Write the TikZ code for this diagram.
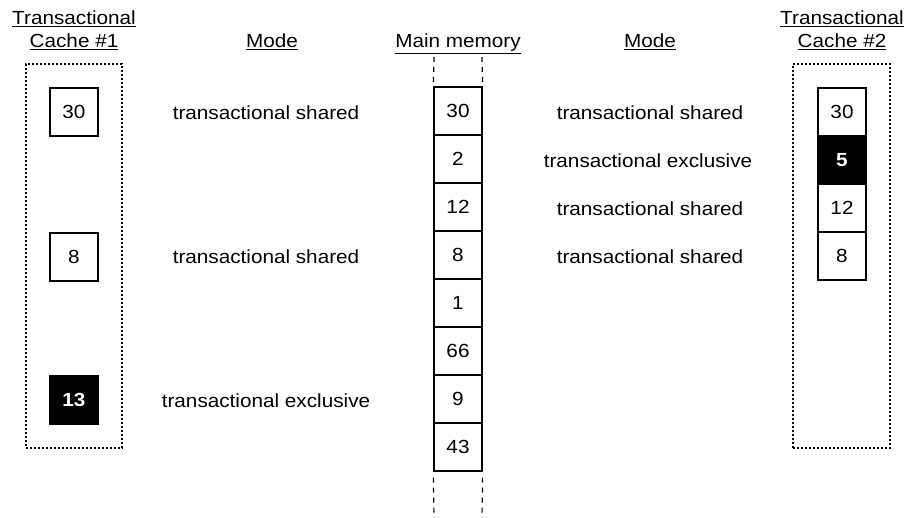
\documentclass[tikz,border=0pt]{standalone}
\usepackage{fontspec}
\setmainfont{Liberation Sans}
% slightly widened lettering
\newcommand\widetxt[1]{\scalebox{1.09}[1]{#1}}
\begin{document}
\begin{tikzpicture}[x=1pt,y=-1pt,
  every node/.style={font=\fontsize{19}{22}\selectfont},
  cell/.style={draw=black,line width=1.2pt,minimum width=48pt,minimum height=48pt,inner sep=0pt,fill=white},
  hotcell/.style={cell,fill=black,text=white,font=\fontsize{19}{22}\selectfont\bfseries},
  cachebox/.style={draw=black,line width=1.2pt,dash pattern=on 2pt off 2pt,inner sep=0pt},
  header/.style={anchor=base,inner sep=0pt},
  mode/.style={anchor=base,inner sep=0pt},
  rail/.style={line width=1.2pt,dash pattern=on 5pt off 5pt}
]
\useasboundingbox (0,0) rectangle (906,518);

% caches drawn as dotted frames
\node[cachebox,minimum width=96pt,minimum height=384pt] (cacheA) at (74,256) {};
\node[cachebox,minimum width=97pt,minimum height=384pt] (cacheB) at (841.5,256) {};

% headers
\node[header] (hA1) at (74,25) {\widetxt{\underline{Transactional}}};
\node[header] (hA2) at (74,48) {\widetxt{\underline{Cache \#1}}};
\node[header] (hB1) at (842,25) {\widetxt{\underline{Transactional}}};
\node[header] (hB2) at (842,48) {\widetxt{\underline{Cache \#2}}};
\node[header] (hModeA) at (272,48) {\widetxt{\underline{Mode}}};
\node[header] (hModeB) at (650,48) {\widetxt{\underline{Mode}}};
\node[header] (hMem) at (458,48) {\widetxt{\underline{Main memory}}};

% main memory column
\node[cell] (m1) at (458,111) {\widetxt{30}};
\node[cell] (m2) at (458,159) {\widetxt{2}};
\node[cell] (m3) at (458,207) {\widetxt{12}};
\node[cell] (m4) at (458,255) {\widetxt{8}};
\node[cell] (m5) at (458,303) {\widetxt{1}};
\node[cell] (m6) at (458,351) {\widetxt{66}};
\node[cell] (m7) at (458,399) {\widetxt{9}};
\node[cell] (m8) at (458,447) {\widetxt{43}};

% continuation rails above and below memory
\coordinate (railTL) at (434,57);
\coordinate (railTR) at (482,57);
\coordinate (railBL) at (434,518);
\coordinate (railBR) at (482,518);
\draw[rail] (railTL) -- (m1.north west);
\draw[rail] (railTR) -- (m1.north east);
\draw[rail] ([yshift=-6pt]m8.south west) -- (railBL);
\draw[rail] ([yshift=-6pt]m8.south east) -- (railBR);

% cache #1 lines
\node[cell] (a1) at (74,112) {\widetxt{30}};
\node[cell] (a2) at (74,257) {\widetxt{8}};
\node[hotcell,minimum width=49pt,minimum height=49pt] (a3) at (74,400) {\widetxt{13}};

% cache #2 lines
\node[cell] (b1) at (842,112) {\widetxt{30}};
\node[hotcell] (b2) at (842,160) {\widetxt{5}};
\node[cell] (b3) at (842,208) {\widetxt{12}};
\node[cell] (b4) at (842,256) {\widetxt{8}};

% modes
\node[mode] (ma1) at (266,120) {\widetxt{transactional shared}};
\node[mode] (ma2) at (266,264) {\widetxt{transactional shared}};
\node[mode] (ma3) at (266,408) {\widetxt{transactional exclusive}};
\node[mode] (mb1) at (650,120) {\widetxt{transactional shared}};
\node[mode] (mb2) at (648,168) {\widetxt{transactional exclusive}};
\node[mode] (mb3) at (650,216) {\widetxt{transactional shared}};
\node[mode] (mb4) at (650,264) {\widetxt{transactional shared}};
\end{tikzpicture}
\end{document}
